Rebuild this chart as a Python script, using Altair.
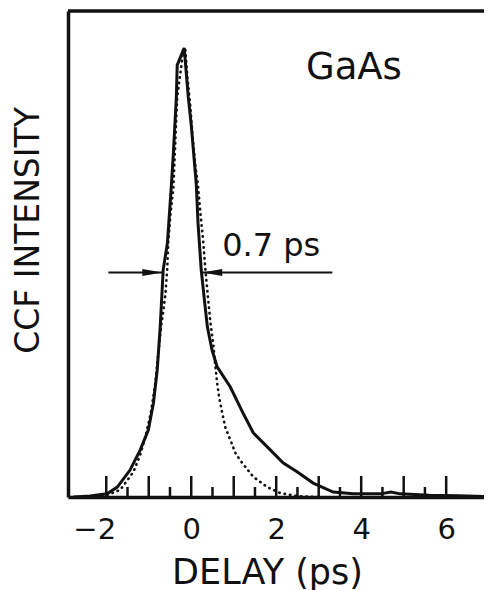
import altair as alt
import pandas as pd

# Solid curve: measured cross-correlation
solid_x = [-2.78, -2.38, -1.98, -1.74, -1.44, -1.20, -1.01, -0.89, -0.80, -0.73, -0.66, -0.56,
           -0.47, -0.42, -0.35, -0.33, -0.165, -0.07, 0.0, 0.05, 0.12, 0.16, 0.235, 0.31, 0.38,
           0.49, 0.61, 0.92, 1.22, 1.46, 1.86, 2.16, 2.49, 2.87, 3.34, 3.81, 4.45, 4.7, 4.92,
           5.6, 6.3, 6.89]
solid_y = [0.0, 0.002, 0.007, 0.022, 0.06, 0.105, 0.149, 0.209, 0.283, 0.379, 0.506, 0.566,
           0.69, 0.766, 0.891, 0.962, 1.0, 0.891, 0.829, 0.773, 0.695, 0.61, 0.506, 0.439, 0.379,
           0.327, 0.29, 0.245, 0.187, 0.143, 0.105, 0.076, 0.056, 0.031, 0.011, 0.007, 0.007, 0.011,
           0.007, 0.004, 0.003, 0.001]

# Dotted curve: reference pulse
dot_x = [-2.49, -1.98, -1.67, -1.36, -1.2, -1.08, -0.96, -0.85, -0.78, -0.71, -0.66, -0.61,
         -0.565, -0.54, -0.49, -0.42, -0.37, -0.33, -0.26, -0.19, -0.14, -0.09, -0.02, 0.02, 0.09,
         0.16, 0.21, 0.28, 0.33, 0.40, 0.45, 0.52, 0.56, 0.61, 0.66, 0.73, 0.80, 0.92, 1.04,
         1.15, 1.46, 1.79, 2.09, 2.49, 3.0]
dot_y = [0.0, 0.004, 0.016, 0.056, 0.094, 0.134, 0.183, 0.249, 0.316, 0.379, 0.412, 0.45,
         0.508, 0.568, 0.628, 0.688, 0.80, 0.891, 0.94, 0.996, 1.0, 0.935, 0.869, 0.817, 0.744,
         0.693, 0.639, 0.572, 0.51, 0.439, 0.39, 0.339, 0.298, 0.254, 0.22, 0.187, 0.156, 0.127,
         0.098, 0.082, 0.045, 0.022, 0.009, 0.002, 0.0]

tick_labels = [-2, 0, 2, 4, 6]
major_ticks = [-2, -1, 0, 1, 2, 3, 4, 5, 6]
minor_ticks = [-1.5, -0.5, 0.5, 1.5, 2.5, 3.5, 4.5, 5.5]

# FWHM annotation
arrow_y = 0.5
left_arrow = [-1.95, -0.68]
right_arrow = [0.26, 3.32]
fwhm_text = "0.7 ps"
fwhm_pos = [0.73, 0.537]
sample_text = "GaAs"
sample_pos = [2.7, 0.93]

W, H = 416, 486
XMIN, XMAX = -2.9, 6.89
YMAX = 1.0824
INK = "#111111"
FONT = "DejaVu Sans"

xs = alt.Scale(domain=[XMIN, XMAX], nice=False, zero=False)
ys = alt.Scale(domain=[0, YMAX], nice=False, zero=False)

df_solid = pd.DataFrame({"x": solid_x, "y": solid_y})
df_dot = pd.DataFrame({"x": dot_x, "y": dot_y})

solid = alt.Chart(df_solid).mark_line(color=INK, strokeWidth=3, clip=True).encode(
    x=alt.X("x:Q", scale=xs, axis=alt.Axis(
        values=tick_labels, title="DELAY (ps)", grid=False, ticks=False, tickSize=0,
        labelFontSize=29, labelFont=FONT, labelColor=INK, labelPadding=18,
        labelOffset={"condition": {"test": "datum.value < 0", "value": -12}, "value": 0},
        domainColor=INK, domainWidth=3.5,
        titleFont=FONT, titleFontSize=35, titleFontWeight="normal", titleColor=INK,
        titleX=199, titleY=86, titleAlign="center", titleBaseline="alphabetic")),
    y=alt.Y("y:Q", scale=ys, axis=alt.Axis(
        labels=False, ticks=False, grid=False, title="CCF INTENSITY",
        domainColor=INK, domainWidth=3.5,
        titleFont=FONT, titleFontSize=33, titleFontWeight="normal", titleColor=INK,
        titleX=-40, titleY=219, titleAngle=270, titleAlign="center", titleBaseline="middle")),
)

dotted = alt.Chart(df_dot).mark_line(color=INK, strokeWidth=2.6, strokeDash=[0.5, 5],
                                     strokeCap="round", clip=True).encode(
    x=alt.X("x:Q", scale=xs), y=alt.Y("y:Q", scale=ys))

top_frame = alt.Chart(pd.DataFrame({"a": [0]})).mark_rule(color=INK, strokeWidth=3.5).encode(
    x=alt.value(0), x2=alt.value(W), y=alt.value(0))

major = alt.Chart(pd.DataFrame({"v": major_ticks})).mark_rule(color=INK, strokeWidth=2.5).encode(
    x=alt.X("v:Q", scale=xs), y=alt.value(H), y2=alt.value(H - 21))
minor = alt.Chart(pd.DataFrame({"v": minor_ticks})).mark_rule(color=INK, strokeWidth=2.5).encode(
    x=alt.X("v:Q", scale=xs), y=alt.value(H), y2=alt.value(H - 10))

df_arrows = pd.DataFrame({
    "x": [left_arrow[0], right_arrow[1]],
    "x2": [left_arrow[1], right_arrow[0]],
    "y": [arrow_y, arrow_y],
})
arrow_lines = alt.Chart(df_arrows).mark_rule(color=INK, strokeWidth=2).encode(
    x=alt.X("x:Q", scale=xs), x2="x2:Q", y=alt.Y("y:Q", scale=ys))

head_r = alt.Chart(pd.DataFrame({"x": [left_arrow[1]], "y": [arrow_y]})).mark_point(
    shape="M0,0L-2,-0.35L-2,0.35Z", size=400, filled=True, color=INK, opacity=1).encode(
    x=alt.X("x:Q", scale=xs), y=alt.Y("y:Q", scale=ys))
head_l = alt.Chart(pd.DataFrame({"x": [right_arrow[0]], "y": [arrow_y]})).mark_point(
    shape="M0,0L2,-0.35L2,0.35Z", size=400, filled=True, color=INK, opacity=1).encode(
    x=alt.X("x:Q", scale=xs), y=alt.Y("y:Q", scale=ys))

df_text = pd.DataFrame({
    "x": [fwhm_pos[0], sample_pos[0]],
    "y": [fwhm_pos[1], sample_pos[1]],
    "t": [fwhm_text, sample_text],
    "s": [32, 37],
})
texts = alt.Chart(df_text).mark_text(align="left", baseline="alphabetic", font=FONT,
                                     color=INK).encode(
    x=alt.X("x:Q", scale=xs), y=alt.Y("y:Q", scale=ys), text="t:N",
    size=alt.Size("s:Q", scale=None, legend=None))

chart = alt.layer(solid, dotted, top_frame, major, minor, arrow_lines, head_r, head_l, texts).properties(
    width=W, height=H,
    autosize=alt.AutoSizeParams(type="none"),
    padding={"left": 60, "top": 3, "right": 0, "bottom": 93},
).configure_view(stroke=None).configure(background="white")

chart.save("out.html", embed_options={"renderer": "svg", "actions": False})
